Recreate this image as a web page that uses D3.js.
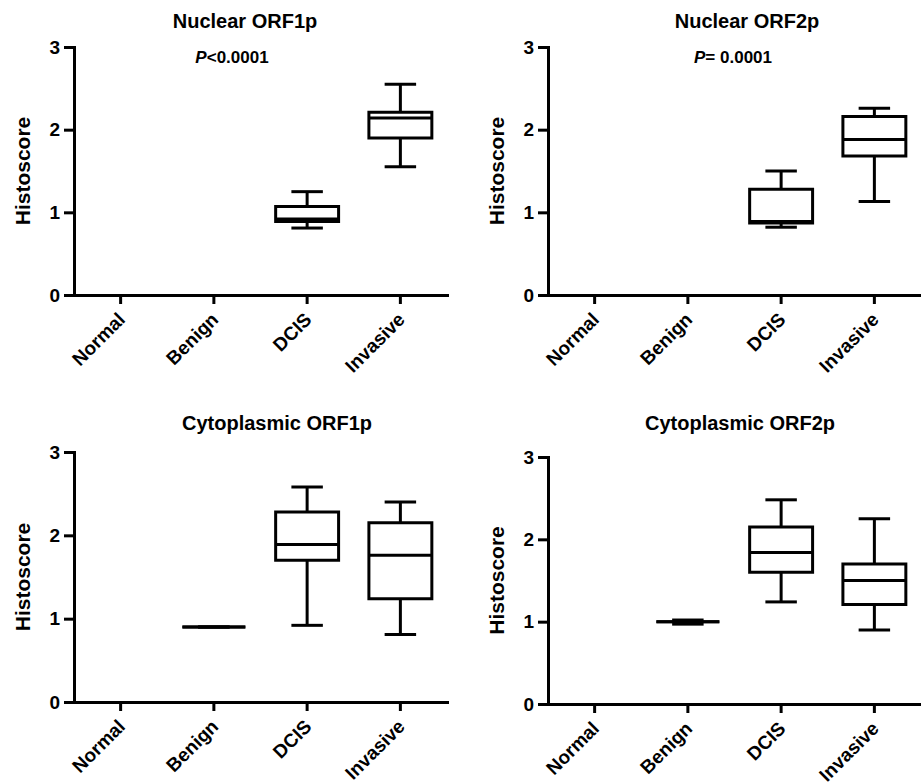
<!DOCTYPE html>
<html>
<head>
<meta charset="utf-8">
<script src="https://cdn.jsdelivr.net/npm/d3@7"></script>
<style>
  body { margin: 0; background: #fff; }
  svg { display: block; font-family: "Liberation Sans", Arial, sans-serif; font-weight: bold; }
</style>
</head>
<body>
<svg width="921" height="782"></svg>
<script>
// groups on the x axis
var categories = ["Normal", "Benign", "DCIS", "Invasive"];
var yTicks = [0, 1, 2, 3];

var titles = ["Nuclear ORF1p", "Nuclear ORF2p", "Cytoplasmic ORF1p", "Cytoplasmic ORF2p"];
var pTexts = ["<0.0001", "= 0.0001", null, null];

// box stats per group: [min, q1, median, q3, max], null = no box
var nuclearORF1p = [null, null, [0.81, 0.89, 0.92, 1.07, 1.25], [1.55, 1.90, 2.14, 2.21, 2.55]];
var nuclearORF2p = [null, null, [0.82, 0.87, 0.89, 1.28, 1.50], [1.13, 1.68, 1.88, 2.16, 2.26]];
var cytoORF1p    = [null, [0.90, 0.90, 0.90, 0.90, 0.90], [0.92, 1.70, 1.89, 2.28, 2.58], [0.81, 1.24, 1.76, 2.15, 2.40]];
var cytoORF2p    = [null, [0.97, 1.00, 1.00, 1.00, 1.02], [1.24, 1.60, 1.84, 2.15, 2.48], [0.90, 1.21, 1.50, 1.70, 2.25]];

var panelData = [nuclearORF1p, nuclearORF2p, cytoORF1p, cytoORF2p];

// where each panel sits on the page
var layout = [
  {x0: 74,  x1: 447, yTop: 47,  yBot: 295, titleX: 245, titleY: 28,  pX: 232},
  {x0: 548, x1: 921, yTop: 47,  yBot: 295, titleX: 747, titleY: 28,  pX: 733},
  {x0: 74,  x1: 447, yTop: 452, yBot: 702, titleX: 277, titleY: 430, pX: 0},
  {x0: 548, x1: 921, yTop: 457, yBot: 704, titleX: 740, titleY: 430, pX: 0}
];

var svg = d3.select("svg");

panelData.forEach(function(stats, i) {
  var L = layout[i];
  var g = svg.append("g");

  var x = d3.scaleBand()
            .domain(categories)
            .range([L.x0, L.x1])
            .padding(0);
  var y = d3.scaleLinear()
            .domain([0, 3])
            .range([L.yBot, L.yTop]);

  var boxW = x.bandwidth() * 0.675;
  var capW = boxW / 2;

  // title
  g.append("text")
   .attr("x", L.titleX)
   .attr("y", L.titleY)
   .attr("text-anchor", "middle")
   .style("font-size", "20px")
   .text(titles[i]);

  // p value
  if (pTexts[i]) {
    var pt = g.append("text")
              .attr("x", L.pX)
              .attr("y", 63)
              .attr("text-anchor", "middle")
              .style("font-size", "17px");
    pt.append("tspan").style("font-style", "italic").text("P");
    pt.append("tspan").text(pTexts[i]);
  }

  // y axis
  var yAxis = g.append("g")
               .attr("transform", "translate(" + L.x0 + ",0)")
               .call(d3.axisLeft(y).tickValues(yTicks).tickFormat(d3.format("d"))
                       .tickSize(10).tickSizeOuter(0).tickPadding(4));
  yAxis.selectAll("line").attr("stroke-width", 3);
  yAxis.select(".domain").attr("stroke-width", 3).attr("stroke-linecap", "square");
  yAxis.selectAll("text")
       .style("font-size", "19px")
       .style("font-family", "'Liberation Sans', Arial, sans-serif")
       .style("font-weight", "bold")
       .attr("fill", "#000");

  // x axis
  var xAxis = g.append("g")
               .attr("transform", "translate(0," + L.yBot + ")")
               .call(d3.axisBottom(x).tickSize(9).tickSizeOuter(0));
  xAxis.selectAll("line").attr("stroke-width", 3);
  xAxis.select(".domain").attr("stroke-width", 3).attr("stroke-linecap", "square");
  xAxis.selectAll("text")
       .style("font-size", "19px")
       .style("font-family", "'Liberation Sans', Arial, sans-serif")
       .style("font-weight", "bold")
       .attr("fill", "#000")
       .attr("text-anchor", "end")
       .attr("x", 0)
       .attr("y", 0)
       .attr("dy", "0.35em")
       .attr("transform", "translate(1,21) rotate(-45)");

  // y label
  g.append("text")
   .attr("transform", "translate(" + (L.x0 - 51) + "," + ((L.yTop + L.yBot) / 2) + ") rotate(-90)")
   .attr("text-anchor", "middle")
   .attr("dy", "0.35em")
   .style("font-size", "21px")
   .text("Histoscore");

  // boxes
  var boxes = g.selectAll(".box")
               .data(stats.map(function(s, k) { return {cat: categories[k], s: s}; })
                          .filter(function(d) { return d.s; }))
               .enter()
               .append("g")
               .attr("class", "box")
               .attr("fill", "none")
               .attr("stroke", "#000")
               .attr("stroke-width", 3);

  boxes.each(function(d) {
    var b = d3.select(this);
    var cx = x(d.cat) + x.bandwidth() / 2;
    var s = d.s;
    // whiskers
    b.append("line").attr("x1", cx).attr("x2", cx).attr("y1", y(s[4])).attr("y2", y(s[3]));
    b.append("line").attr("x1", cx).attr("x2", cx).attr("y1", y(s[1])).attr("y2", y(s[0]));
    b.append("line").attr("x1", cx - capW / 2).attr("x2", cx + capW / 2).attr("y1", y(s[4])).attr("y2", y(s[4]));
    b.append("line").attr("x1", cx - capW / 2).attr("x2", cx + capW / 2).attr("y1", y(s[0])).attr("y2", y(s[0]));
    // box
    b.append("path")
     .attr("d", "M" + (cx - boxW / 2) + "," + y(s[3]) + "H" + (cx + boxW / 2) +
                "V" + y(s[1]) + "H" + (cx - boxW / 2) + "Z");
    // median
    b.append("line").attr("x1", cx - boxW / 2).attr("x2", cx + boxW / 2)
     .attr("y1", y(s[2])).attr("y2", y(s[2]));
  });
});
</script>
</body>
</html>
